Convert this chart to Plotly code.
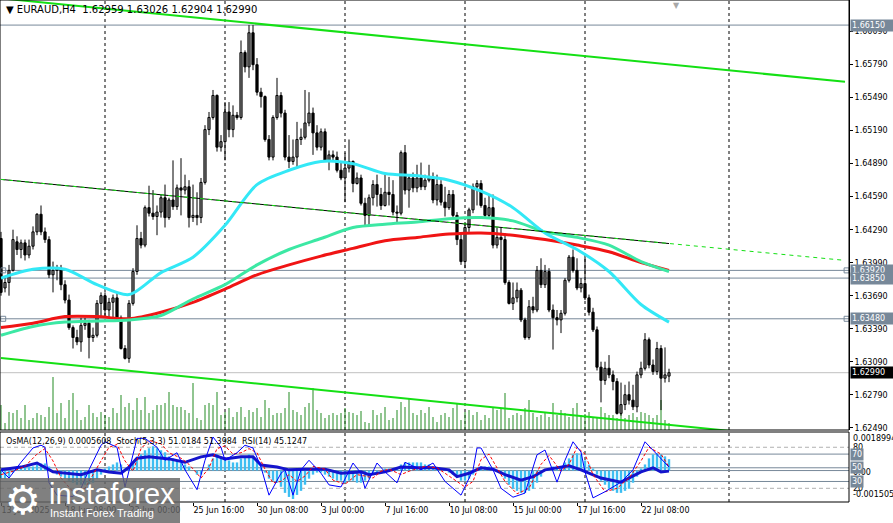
import numpy as np
import plotly.graph_objects as go

## EURAUD H4 BARS (bar 0 = 13 Jun 2025 16:00)
opens = [
    1.6421, 1.6376, 1.6381, 1.6392, 1.6418, 1.6411, 1.6417, 1.6406, 1.6414, 1.6427,
    1.6443, 1.6427, 1.6420, 1.6388, 1.6392, 1.6394, 1.6379, 1.6365, 1.6340, 1.6331,
    1.6327, 1.6342, 1.6344, 1.6331, 1.6333, 1.6362, 1.6369, 1.6356, 1.6363, 1.6367,
    1.6349, 1.6321, 1.6312, 1.6362, 1.6391, 1.6421, 1.6415, 1.6449, 1.6444, 1.6441,
    1.6445, 1.6458, 1.6440, 1.6456, 1.6450, 1.6467, 1.6465, 1.6468, 1.6440, 1.6442,
    1.6440, 1.6472, 1.6520, 1.6531, 1.6551, 1.6504, 1.6509, 1.6536, 1.6520, 1.6533,
    1.6531, 1.6590, 1.6577, 1.6608, 1.6579, 1.6554, 1.6550, 1.6511, 1.6495, 1.6531,
    1.6551, 1.6535, 1.6495, 1.6491, 1.6495, 1.6511, 1.6513, 1.6526, 1.6535, 1.6517,
    1.6504, 1.6518, 1.6492, 1.6497, 1.6495, 1.6483, 1.6476, 1.6485, 1.6491, 1.6471,
    1.6476, 1.6453, 1.6442, 1.6458, 1.6470, 1.6461, 1.6451, 1.6463, 1.6461, 1.6445,
    1.6444, 1.6499, 1.6465, 1.6476, 1.6467, 1.6476, 1.6468, 1.6474, 1.6476, 1.6456,
    1.6470, 1.6454, 1.6449, 1.6461, 1.6442, 1.6420, 1.6400, 1.6431, 1.6447, 1.6468,
    1.6471, 1.6451, 1.6442, 1.6449, 1.6415, 1.6422, 1.6420, 1.6381, 1.6362, 1.6367,
    1.6374, 1.6347, 1.6331, 1.6359, 1.6356, 1.6392, 1.6379, 1.6391, 1.6356, 1.6349,
    1.6347, 1.6353, 1.6383, 1.6404, 1.6392, 1.6376, 1.6380, 1.6367, 1.6354, 1.6338,
    1.6304, 1.6292, 1.6303, 1.6297, 1.6291, 1.6262, 1.6270, 1.6279, 1.6274, 1.6268,
    1.6297, 1.6303, 1.6329, 1.6306, 1.6300, 1.6321, 1.6294, 1.62959,
]
highs = [
    1.6427, 1.6385, 1.6397, 1.6429, 1.6423, 1.6420, 1.6420, 1.6420, 1.6432, 1.6444,
    1.6451, 1.6431, 1.6423, 1.6400, 1.6397, 1.6397, 1.6383, 1.6370, 1.6342, 1.6338,
    1.6349, 1.6349, 1.6347, 1.6340, 1.6365, 1.6372, 1.6372, 1.6367, 1.6370, 1.6372,
    1.6351, 1.6324, 1.6365, 1.6394, 1.6433, 1.6427, 1.6451, 1.6469, 1.6465, 1.6451,
    1.6461, 1.6470, 1.6458, 1.6492, 1.6470, 1.6494, 1.6479, 1.6474, 1.6470, 1.6463,
    1.6476, 1.6524, 1.6536, 1.6556, 1.6552, 1.6515, 1.6545, 1.6545, 1.6542, 1.6536,
    1.6601, 1.6592, 1.6615, 1.6615, 1.6585, 1.6558, 1.6551, 1.6515, 1.6533, 1.6567,
    1.6554, 1.6538, 1.6515, 1.6511, 1.6527, 1.6521, 1.6556, 1.6554, 1.6540, 1.6524,
    1.6521, 1.6521, 1.6501, 1.6501, 1.6500, 1.6491, 1.6499, 1.6511, 1.6492, 1.6481,
    1.6479, 1.6458, 1.6461, 1.6474, 1.6479, 1.6467, 1.6479, 1.6477, 1.6474, 1.6451,
    1.6501, 1.6506, 1.6479, 1.6481, 1.6488, 1.6490, 1.6479, 1.6488, 1.6481, 1.6479,
    1.6474, 1.6468, 1.6465, 1.6465, 1.6445, 1.6426, 1.6436, 1.6449, 1.6471, 1.6474,
    1.6474, 1.6458, 1.6461, 1.6461, 1.6431, 1.6431, 1.6426, 1.6383, 1.6381, 1.6381,
    1.6376, 1.6349, 1.6365, 1.6368, 1.6396, 1.6403, 1.6397, 1.6394, 1.6361, 1.6356,
    1.6356, 1.6385, 1.6406, 1.6411, 1.6403, 1.6385, 1.6406, 1.6370, 1.6358, 1.6341,
    1.6309, 1.6309, 1.6315, 1.6301, 1.6294, 1.6290, 1.6288, 1.6291, 1.6288, 1.6300,
    1.6309, 1.6335, 1.6331, 1.6311, 1.6327, 1.6324, 1.6322, 1.63026,
]
lows = [
    1.6369, 1.6372, 1.6369, 1.6391, 1.6406, 1.6403, 1.6401, 1.6403, 1.6411, 1.6424,
    1.6424, 1.6417, 1.6385, 1.6372, 1.6383, 1.6374, 1.6362, 1.6338, 1.6321, 1.6324,
    1.6318, 1.6338, 1.6312, 1.6327, 1.6331, 1.6349, 1.6350, 1.6349, 1.6349, 1.6347,
    1.6320, 1.6311, 1.6308, 1.6360, 1.6388, 1.6412, 1.6413, 1.6441, 1.6438, 1.6424,
    1.6440, 1.6431, 1.6438, 1.6447, 1.6447, 1.6442, 1.6461, 1.6431, 1.6436, 1.6433,
    1.6435, 1.6470, 1.6515, 1.6529, 1.6500, 1.6500, 1.6492, 1.6513, 1.6513, 1.6529,
    1.6529, 1.6572, 1.6567, 1.6574, 1.6551, 1.6540, 1.6509, 1.6492, 1.6492, 1.6529,
    1.6531, 1.6492, 1.6485, 1.6488, 1.6485, 1.6506, 1.6511, 1.6523, 1.6497, 1.6501,
    1.6501, 1.6491, 1.6483, 1.6491, 1.6481, 1.6474, 1.6454, 1.6481, 1.6463, 1.6470,
    1.6451, 1.6433, 1.6433, 1.6451, 1.6450, 1.6447, 1.6450, 1.6451, 1.6442, 1.6436,
    1.6442, 1.6461, 1.6449, 1.6463, 1.6463, 1.6465, 1.6465, 1.6472, 1.6453, 1.6451,
    1.6451, 1.6441, 1.6447, 1.6440, 1.6415, 1.6397, 1.6394, 1.6427, 1.6444, 1.6451,
    1.6449, 1.6440, 1.6440, 1.6412, 1.6412, 1.6392, 1.6379, 1.6361, 1.6356, 1.6363,
    1.6345, 1.6329, 1.6329, 1.6353, 1.6354, 1.6376, 1.6376, 1.6354, 1.6320, 1.6342,
    1.6335, 1.6351, 1.6381, 1.6390, 1.6374, 1.6372, 1.6365, 1.6351, 1.6336, 1.6301,
    1.6272, 1.6288, 1.6294, 1.6283, 1.6261, 1.6260, 1.6265, 1.6270, 1.6265, 1.6263,
    1.6294, 1.6301, 1.6303, 1.6297, 1.6297, 1.6265, 1.6290, 1.62904,
]
closes = [
    1.6372, 1.6381, 1.6392, 1.6420, 1.6411, 1.6417, 1.6406, 1.6414, 1.6427, 1.6443,
    1.6427, 1.6420, 1.6388, 1.6392, 1.6394, 1.6379, 1.6365, 1.6340, 1.6331, 1.6327,
    1.6342, 1.6344, 1.6331, 1.6333, 1.6362, 1.6369, 1.6356, 1.6363, 1.6367, 1.6349,
    1.6321, 1.6312, 1.6362, 1.6391, 1.6421, 1.6415, 1.6449, 1.6444, 1.6441, 1.6445,
    1.6458, 1.6440, 1.6456, 1.6450, 1.6467, 1.6465, 1.6468, 1.6440, 1.6442, 1.6440,
    1.6472, 1.6520, 1.6531, 1.6551, 1.6504, 1.6509, 1.6536, 1.6520, 1.6533, 1.6531,
    1.6590, 1.6577, 1.6608, 1.6579, 1.6554, 1.6550, 1.6511, 1.6495, 1.6531, 1.6551,
    1.6535, 1.6495, 1.6491, 1.6495, 1.6511, 1.6513, 1.6526, 1.6535, 1.6517, 1.6504,
    1.6518, 1.6492, 1.6497, 1.6495, 1.6483, 1.6476, 1.6485, 1.6491, 1.6471, 1.6476,
    1.6453, 1.6442, 1.6458, 1.6470, 1.6461, 1.6451, 1.6463, 1.6461, 1.6445, 1.6444,
    1.6499, 1.6465, 1.6476, 1.6467, 1.6476, 1.6468, 1.6474, 1.6476, 1.6456, 1.6470,
    1.6454, 1.6449, 1.6461, 1.6442, 1.6420, 1.6400, 1.6431, 1.6447, 1.6468, 1.6471,
    1.6451, 1.6442, 1.6449, 1.6415, 1.6422, 1.6420, 1.6381, 1.6362, 1.6367, 1.6374,
    1.6347, 1.6331, 1.6359, 1.6356, 1.6392, 1.6379, 1.6391, 1.6356, 1.6349, 1.6347,
    1.6353, 1.6383, 1.6404, 1.6392, 1.6376, 1.6380, 1.6367, 1.6354, 1.6338, 1.6304,
    1.6292, 1.6303, 1.6297, 1.6291, 1.6262, 1.6270, 1.6279, 1.6274, 1.6268, 1.6297,
    1.6303, 1.6329, 1.6306, 1.6300, 1.6321, 1.6294, 1.6297, 1.62990,
]
volumes = [
    250, 70, 180, 170, 200, 120, 250, 100, 120, 170, 150, 130, 230, 530, 170, 270, 120, 300, 370, 200,
    100, 130, 250, 170, 130, 180, 150, 130, 220, 170, 350, 230, 270, 200, 320, 200, 330, 170, 200, 250,
    250, 270, 380, 250, 230, 230, 200, 170, 470, 120, 100, 250, 270, 250, 380, 150, 180, 220, 130, 180,
    230, 130, 200, 180, 220, 130, 300, 220, 150, 170, 170, 220, 380, 200, 180, 150, 230, 270, 420, 200,
    170, 120, 150, 170, 150, 170, 220, 180, 170, 150, 190, 80, 70, 200, 150, 170, 230, 100, 120, 200,
    280, 230, 320, 170, 150, 200, 170, 230, 130, 80, 150, 170, 130, 220, 270, 100, 180, 200, 150, 180,
    100, 150, 120, 220, 200, 220, 370, 120, 150, 170, 150, 220, 300, 170, 130, 150, 180, 130, 270, 150,
    200, 170, 130, 220, 270, 150, 160, 180, 120, 130, 230, 170, 150, 150, 120, 250, 120, 150, 170, 130,
    180, 170, 150, 120, 150, 300, 100, 70,
]

## MOVING AVERAGES (read every 8 bars)
ma_idx = [0, 8, 16, 24, 32, 40, 48, 56, 64, 72, 80, 88, 96, 104, 112, 120, 128, 136, 144, 152, 160, 167]
ma_fast = [1.6385, 1.6393, 1.6393, 1.6379, 1.6370, 1.6390, 1.6404, 1.6433, 1.6470, 1.6483, 1.6491,
           1.6489, 1.6480, 1.6478, 1.6474, 1.6464, 1.6449, 1.6426, 1.6411, 1.6391, 1.6361, 1.6345]
ma_mid = [1.6333, 1.6341, 1.6345, 1.6346, 1.6347, 1.6351, 1.6366, 1.6379, 1.6397, 1.6411, 1.6421,
          1.6431, 1.6434, 1.6436, 1.6439, 1.6440, 1.6437, 1.6427, 1.6422, 1.6415, 1.6400, 1.6391]
ma_slow = [1.6340, 1.6344, 1.6350, 1.6350, 1.6348, 1.6354, 1.6363, 1.6375, 1.6388, 1.6397, 1.6405,
           1.6412, 1.6419, 1.6422, 1.6425, 1.6426, 1.6424, 1.6420, 1.6415, 1.6409, 1.6399, 1.6392]

## INDICATOR WINDOW
osma = np.array([
    -4, -4, -3, -1, 1, 2, 2, 2, 2, 3,
    3.5, 3.5, 2, 0, -2, -3, -4, -5, -6, -7,
    -7, -7, -7, -6, -4, -2, 1, 2, 3, 4,
    3, 1, 2, 4, 6, 8, 10, 11, 12, 11,
    10, 9, 7, 6, 5, 4, 3, 2, 0, -2,
    -2, 0, 3, 6, 8, 7, 6, 5, 4, 4,
    6, 7, 8, 7, 5, 2, -1, -4, -5, -6,
    -8, -11, -13, -14, -12, -10, -7, -4, -2, -1,
    -1, -2, -3, -4, -5, -5, -6, -5, -5, -6,
    -6, -5, -4, -2, -1, 0, 1, 1, 0, 1,
    3, 4, 4, 4, 4, 4, 3, 3, 2, 1,
    1, 0, -1, -2, -3, -5, -5, -4, -2, 1,
    2, 2, 2, 1, 0, -1, -4, -7, -9, -10,
    -11, -11, -10, -9, -6, -3, 0, 1, 2, 2,
    2, 4, 6, 8, 8.5, 8, 5, 3, 1, -2,
    -5, -7, -9, -10, -11, -11, -10, -9, -6, -3,
    1, 3, 6, 8, 8.5, 8, 7, 5.608,
]) * 1e-4  # values read in 1e-4 units

stoch_k_idx = [0, 2, 5, 8, 10, 11, 12, 14, 18, 20, 22, 25, 26, 29, 31, 33, 34, 36, 39, 41, 44, 46, 49,
               51, 53, 55, 56, 59, 61, 63, 65, 67, 70, 71, 73, 75, 77, 80, 82, 85, 88, 90, 91, 94, 96,
               99, 101, 105, 108, 111, 115, 118, 119, 120, 123, 125, 128, 131, 134, 136, 139, 141, 143,
               145, 146, 148, 151, 155, 158, 161, 164, 167]
stoch_k = [47, 35, 58, 79, 83, 80, 28, 10, 8, 20, 47, 83, 88, 80, 22, 72, 93, 93, 80, 61, 72, 47, 18,
           61, 95, 80, 61, 72, 83, 79, 51, 10, 42, 47, 10, 47, 61, 42, 25, 22, 57, 42, 20, 57, 44,
           28, 58, 47, 57, 30, 10, 47, 79, 79, 47, 20, 7, 13, 69, 76, 29, 61, 88,
           73, 44, 6, 15, 29, 47, 88, 69, 51.0184]
stoch_d_idx = [0, 3, 6, 9, 11, 13, 15, 18, 21, 24, 27, 29, 31, 33, 35, 37, 40, 42, 45, 47, 50, 52, 54,
               56, 58, 60, 62, 64, 66, 68, 70, 72, 74, 76, 78, 81, 83, 86, 89, 91, 93, 95, 97, 100,
               102, 106, 109, 112, 116, 118, 120, 122, 124, 126, 129, 132, 135, 137, 140, 142, 144,
               146, 148, 151, 154, 157, 160, 162, 165, 167]
stoch_d = [40, 45, 52, 70, 78, 60, 35, 15, 20, 50, 80, 84, 60, 45, 78, 90, 85, 72, 64, 55, 35, 50, 78,
           82, 70, 72, 78, 72, 48, 28, 30, 40, 30, 38, 52, 48, 32, 26, 40, 38, 35, 45, 48, 40,
           45, 52, 50, 38, 22, 30, 62, 70, 50, 30, 12, 20, 55, 68, 45, 55, 80,
           70, 40, 15, 20, 35, 60, 80, 70, 51.3984]
rsi_idx = [0, 5, 9, 11, 13, 20, 24, 27, 30, 32, 34, 37, 42, 46, 50, 53, 56, 60, 63, 65, 69, 72, 76,
           81, 85, 90, 92, 96, 100, 104, 108, 112, 114, 117, 120, 123, 126, 130, 133, 136, 142, 145,
           150, 155, 157, 160, 163, 165, 167]
rsi = [47, 51, 57, 51, 44, 40, 47, 44, 42, 51, 64, 66, 63, 58, 66, 69, 63, 66, 66, 54, 51, 47, 48,
       48, 42, 44, 40, 44, 51, 50, 50, 47, 37, 42, 50, 48, 40, 32, 37, 47, 53, 47,
       35, 29, 35, 44, 50, 44, 45.1247]
osma_top_label = 0.0018994
osma_bottom_label = -0.001505

## AXES, LEVELS AND LINES
tick_bars = [0, 16, 32, 48, 64, 80, 96, 112, 128, 144, 160]
tick_labels = ["13 Jun 2025", "18 Jun 08:00", "23 Jun 00:00", "25 Jun 16:00", "30 Jun 08:00",
               "3 Jul 00:00", "7 Jul 16:00", "10 Jul 08:00", "15 Jul 00:00", "17 Jul 16:00",
               "22 Jul 08:00"]
grid_bars = [26, 56, 86, 116, 146, 182]
price_ticks = [1.66090, 1.65790, 1.65490, 1.65190, 1.64890, 1.64590, 1.64290,
               1.63990, 1.63690, 1.63390, 1.63090, 1.62790, 1.62490]
levels = [1.66150, 1.63920, 1.63850, 1.63480]
level_marked = [False, True, False, True]
stoch_levels_dashed = [80, 20]
stoch_levels_solid = [70, 50, 30]

channel_top = ([0, 211], [1.66393, 1.65634])
channel_bottom = ([0, 211], [1.63123, 1.62356])
channel_mid = ([0, 211], [1.64747, 1.64011])
channel_mid_solid = ([0, 167], [1.64747, 1.64164])

assert len(opens) == len(highs) == len(lows) == len(closes) == len(volumes) == len(osma)

n = len(closes)
bars = list(range(n))
x_range = [-0.25, 212]
main_dom = [72 / 502, 1.0]
ind_dom = [0.0, 70 / 502]
slate = "#778899"
green = "#14E014"
font = dict(family="DejaVu Sans", size=8, color="black")

fig = go.Figure()

## VOLUMES (base axis of the main window)
vx, vy = [], []
for i, v in enumerate(volumes):
    vx += [i, i, None]
    vy += [0, v, None]
fig.add_trace(go.Scatter(x=vx, y=vy, mode="lines", line=dict(color="#228B22", width=1),
                         xaxis="x", yaxis="y", hoverinfo="skip"))

## CANDLES
wx, wy = [], []
for i in bars:
    wx += [i, i, None]
    wy += [lows[i], highs[i], None]
fig.add_trace(go.Scatter(x=wx, y=wy, mode="lines", line=dict(color="black", width=1),
                         xaxis="x", yaxis="y4", hoverinfo="skip"))

body_base = [min(o, c) for o, c in zip(opens, closes)]
body_h = [max(abs(c - o), 0.00003) for o, c in zip(opens, closes)]
body_col = ["white" if c >= o else "black" for o, c in zip(opens, closes)]
fig.add_trace(go.Bar(x=bars, y=body_h, base=body_base, width=0.55,
                     marker=dict(color=body_col, line=dict(color="black", width=1)),
                     xaxis="x", yaxis="y4", hoverinfo="skip"))

## MOVING AVERAGES
for vals, col in [(ma_slow, "#F01414"), (ma_mid, "#3CE8A4"), (ma_fast, "#33E8F6")]:
    fig.add_trace(go.Scatter(x=ma_idx, y=vals, mode="lines",
                             line=dict(color=col, width=3, shape="spline", smoothing=0.8),
                             xaxis="x", yaxis="y4", hoverinfo="skip"))

## CHANNEL LINES
fig.add_trace(go.Scatter(x=channel_top[0], y=channel_top[1], mode="lines",
                         line=dict(color=green, width=2), xaxis="x", yaxis="y4"))
fig.add_trace(go.Scatter(x=channel_bottom[0], y=channel_bottom[1], mode="lines",
                         line=dict(color=green, width=2), xaxis="x", yaxis="y4"))
fig.add_trace(go.Scatter(x=channel_mid_solid[0], y=channel_mid_solid[1], mode="lines",
                         line=dict(color="black", width=1), xaxis="x", yaxis="y4"))
fig.add_trace(go.Scatter(x=channel_mid[0], y=channel_mid[1], mode="lines",
                         line=dict(color=green, width=1, dash="4px,4px"), xaxis="x", yaxis="y4"))

## LEVEL END MARKERS
sq_x, sq_y = [], []
for lv, marked in zip(levels, level_marked):
    if marked:
        sq_x += [x_range[0] + 0.8, x_range[1] - 0.6]
        sq_y += [lv, lv]
fig.add_trace(go.Scatter(x=sq_x, y=sq_y, mode="markers",
                         marker=dict(symbol="square-open", size=5, color=slate, line=dict(width=1)),
                         xaxis="x", yaxis="y4", hoverinfo="skip"))

## INDICATORS
fig.add_trace(go.Bar(x=bars, y=osma, width=0.6, marker=dict(color="#3DBEF2", line=dict(width=0)),
                     xaxis="x", yaxis="y2", hoverinfo="skip"))
fig.add_trace(go.Scatter(x=rsi_idx, y=rsi, mode="lines", line=dict(color="#1414CC", width=3),
                         xaxis="x", yaxis="y3", hoverinfo="skip"))
fig.add_trace(go.Scatter(x=stoch_d_idx, y=stoch_d, mode="lines",
                         line=dict(color="red", width=1, dash="3px,2px"),
                         xaxis="x", yaxis="y3", hoverinfo="skip"))
fig.add_trace(go.Scatter(x=stoch_k_idx, y=stoch_k, mode="lines", line=dict(color="#0000FF", width=1),
                         xaxis="x", yaxis="y3", hoverinfo="skip"))

## SHAPES
shapes = []
for g in grid_bars:
    shapes.append(dict(type="line", xref="x", yref="paper", x0=g, x1=g, y0=0, y1=1,
                       line=dict(color="black", width=1, dash="3px,3px"), layer="below"))
for lv in levels:
    shapes.append(dict(type="line", xref="paper", yref="y4", x0=0, x1=1, y0=lv, y1=lv,
                       line=dict(color=slate, width=1), layer="below"))
shapes.append(dict(type="line", xref="paper", yref="y4", x0=0, x1=1, y0=closes[-1], y1=closes[-1],
                   line=dict(color="#C0C0C0", width=1), layer="below"))
for lv in stoch_levels_dashed:
    shapes.append(dict(type="line", xref="paper", yref="y3", x0=0, x1=1, y0=lv, y1=lv,
                       line=dict(color="#B0B0B0", width=1, dash="4px,3px"), layer="below"))
for lv in stoch_levels_solid:
    shapes.append(dict(type="line", xref="paper", yref="y3", x0=0, x1=1, y0=lv, y1=lv,
                       line=dict(color=slate, width=1), layer="below"))
shapes.append(dict(type="line", xref="paper", yref="y2", x0=0, x1=1, y0=0, y1=0,
                   line=dict(color=slate, width=1), layer="below"))
shapes.append(dict(type="rect", xref="paper", yref="paper", x0=0, x1=1, y0=main_dom[0], y1=main_dom[1],
                   line=dict(color="black", width=1)))
shapes.append(dict(type="rect", xref="paper", yref="paper", x0=0, x1=1, y0=ind_dom[0], y1=ind_dom[1],
                   line=dict(color="black", width=1)))
# watermark box
shapes.append(dict(type="rect", xref="paper", yref="paper", x0=0, x1=180 / 849,
                   y0=(502 - 523) / 502, y1=(502 - 478) / 502,
                   fillcolor="rgba(100,100,100,0.82)", line=dict(width=0), layer="above"))

## ANNOTATIONS
ann = []
nb = "\u00a0"
ann.append(dict(xref="paper", yref="paper", x=0, y=1, xanchor="left", yanchor="top", xshift=4, yshift=-2,
                showarrow=False, font=dict(family="DejaVu Sans", size=10, color="black"),
                text=f"▼{nb}EURAUD,H4{nb}{nb}{opens[-1]:.5f} {highs[-1]:.5f} {lows[-1]:.5f} {closes[-1]:.5f}"))
ann.append(dict(xref="paper", yref="paper", x=676 / 849, y=1, xanchor="center", yanchor="top", yshift=1,
                showarrow=False, text="▼", font=dict(family="DejaVu Sans", size=8, color="#A8A8A8")))
ann.append(dict(xref="paper", yref="paper", x=0, y=ind_dom[1], xanchor="left", yanchor="top",
                xshift=4, yshift=-3, showarrow=False, font=font,
                text=f"OsMA(12,26,9) {osma[-1]:.7f}{nb}{nb}Stoch(5,3,3) {stoch_k[-1]:.4f} "
                     f"{stoch_d[-1]:.4f}{nb}{nb}RSI(14) {rsi[-1]:.4f}"))
for lv in levels:
    ann.append(dict(xref="paper", yref="y4", x=1, y=lv, xanchor="left", yanchor="middle", xshift=1,
                    showarrow=False, text=f"{lv:.5f}", bgcolor=slate, borderpad=1, width=40,
                    align="left", font=dict(family="DejaVu Sans", size=8, color="white")))
ann.append(dict(xref="paper", yref="y4", x=1, y=closes[-1], xanchor="left", yanchor="middle", xshift=1,
                showarrow=False, text=f"{closes[-1]:.5f}", bgcolor="black", borderpad=1, width=40,
                align="left", font=dict(family="DejaVu Sans", size=8, color="white")))
ann.append(dict(xref="paper", yref="y2", x=1, y=osma_top_label, xanchor="left", yanchor="top", xshift=2,
                showarrow=False, text=f"{osma_top_label:.7f}", font=font))
ann.append(dict(xref="paper", yref="y2", x=1, y=osma_bottom_label, xanchor="left", yanchor="bottom",
                xshift=2, showarrow=False, text=f"{osma_bottom_label:.6f}", font=font))
ann.append(dict(xref="paper", yref="y2", x=1, y=0, xanchor="left", yanchor="middle", xshift=2, yshift=-2,
                showarrow=False, text="0.00", font=font))
for lv in stoch_levels_dashed:
    ann.append(dict(xref="paper", yref="y3", x=1, y=lv, xanchor="left", yanchor="middle", xshift=2,
                    showarrow=False, text=str(lv), font=font))
for lv in stoch_levels_solid:
    ann.append(dict(xref="paper", yref="y3", x=1, y=lv, xanchor="left", yanchor="middle", xshift=1,
                    showarrow=False, text=str(lv), bgcolor=slate, borderpad=1,
                    font=dict(family="DejaVu Sans", size=8, color="white")))
# watermark
ann.append(dict(xref="paper", yref="paper", x=23 / 849, y=(502 - 500) / 502, xanchor="center",
                yanchor="middle", showarrow=False, text="⚙",
                font=dict(family="DejaVu Sans", size=40, color="white")))
ann.append(dict(xref="paper", yref="paper", x=47 / 849, y=(502 - 494) / 502, xanchor="left",
                yanchor="middle", showarrow=False, text="instaforex",
                font=dict(family="Liberation Sans", size=29, color="white")))
ann.append(dict(xref="paper", yref="paper", x=48 / 849, y=(502 - 513) / 502, xanchor="left",
                yanchor="middle", showarrow=False, text="Instant Forex Trading",
                font=dict(family="Liberation Sans", size=11, color="white")))

fig.update_layout(
    width=893, height=523,
    margin=dict(l=0, r=44, t=0, b=21),
    paper_bgcolor="white", plot_bgcolor="white",
    showlegend=False, barmode="overlay", hovermode=False,
    shapes=shapes, annotations=ann,
    xaxis=dict(range=x_range, anchor="y2", tickvals=tick_bars, ticktext=tick_labels,
               ticks="outside", ticklen=3, tickcolor="black", ticklabelposition="outside right",
               showgrid=False, zeroline=False, showline=False, tickfont=font),
    yaxis=dict(domain=main_dom, range=[0, 4300], visible=False),
    yaxis2=dict(domain=ind_dom, range=[-0.00155, 0.00190], visible=False),
    yaxis3=dict(overlaying="y2", range=[0, 102.3], visible=False),
    yaxis4=dict(overlaying="y", side="right", anchor="x", range=[1.62469, 1.66378],
                tickvals=price_ticks, ticktext=[f"{p:.5f}" for p in price_ticks],
                ticks="outside", ticklen=3, tickcolor="black", showgrid=False, zeroline=False,
                showline=True, linecolor="black", tickfont=font),
)

# page margin off so the chart sits at the window's top-left corner
fig.write_html("out.html", config={"displayModeBar": False},
               post_script="document.body.style.margin='0';")
